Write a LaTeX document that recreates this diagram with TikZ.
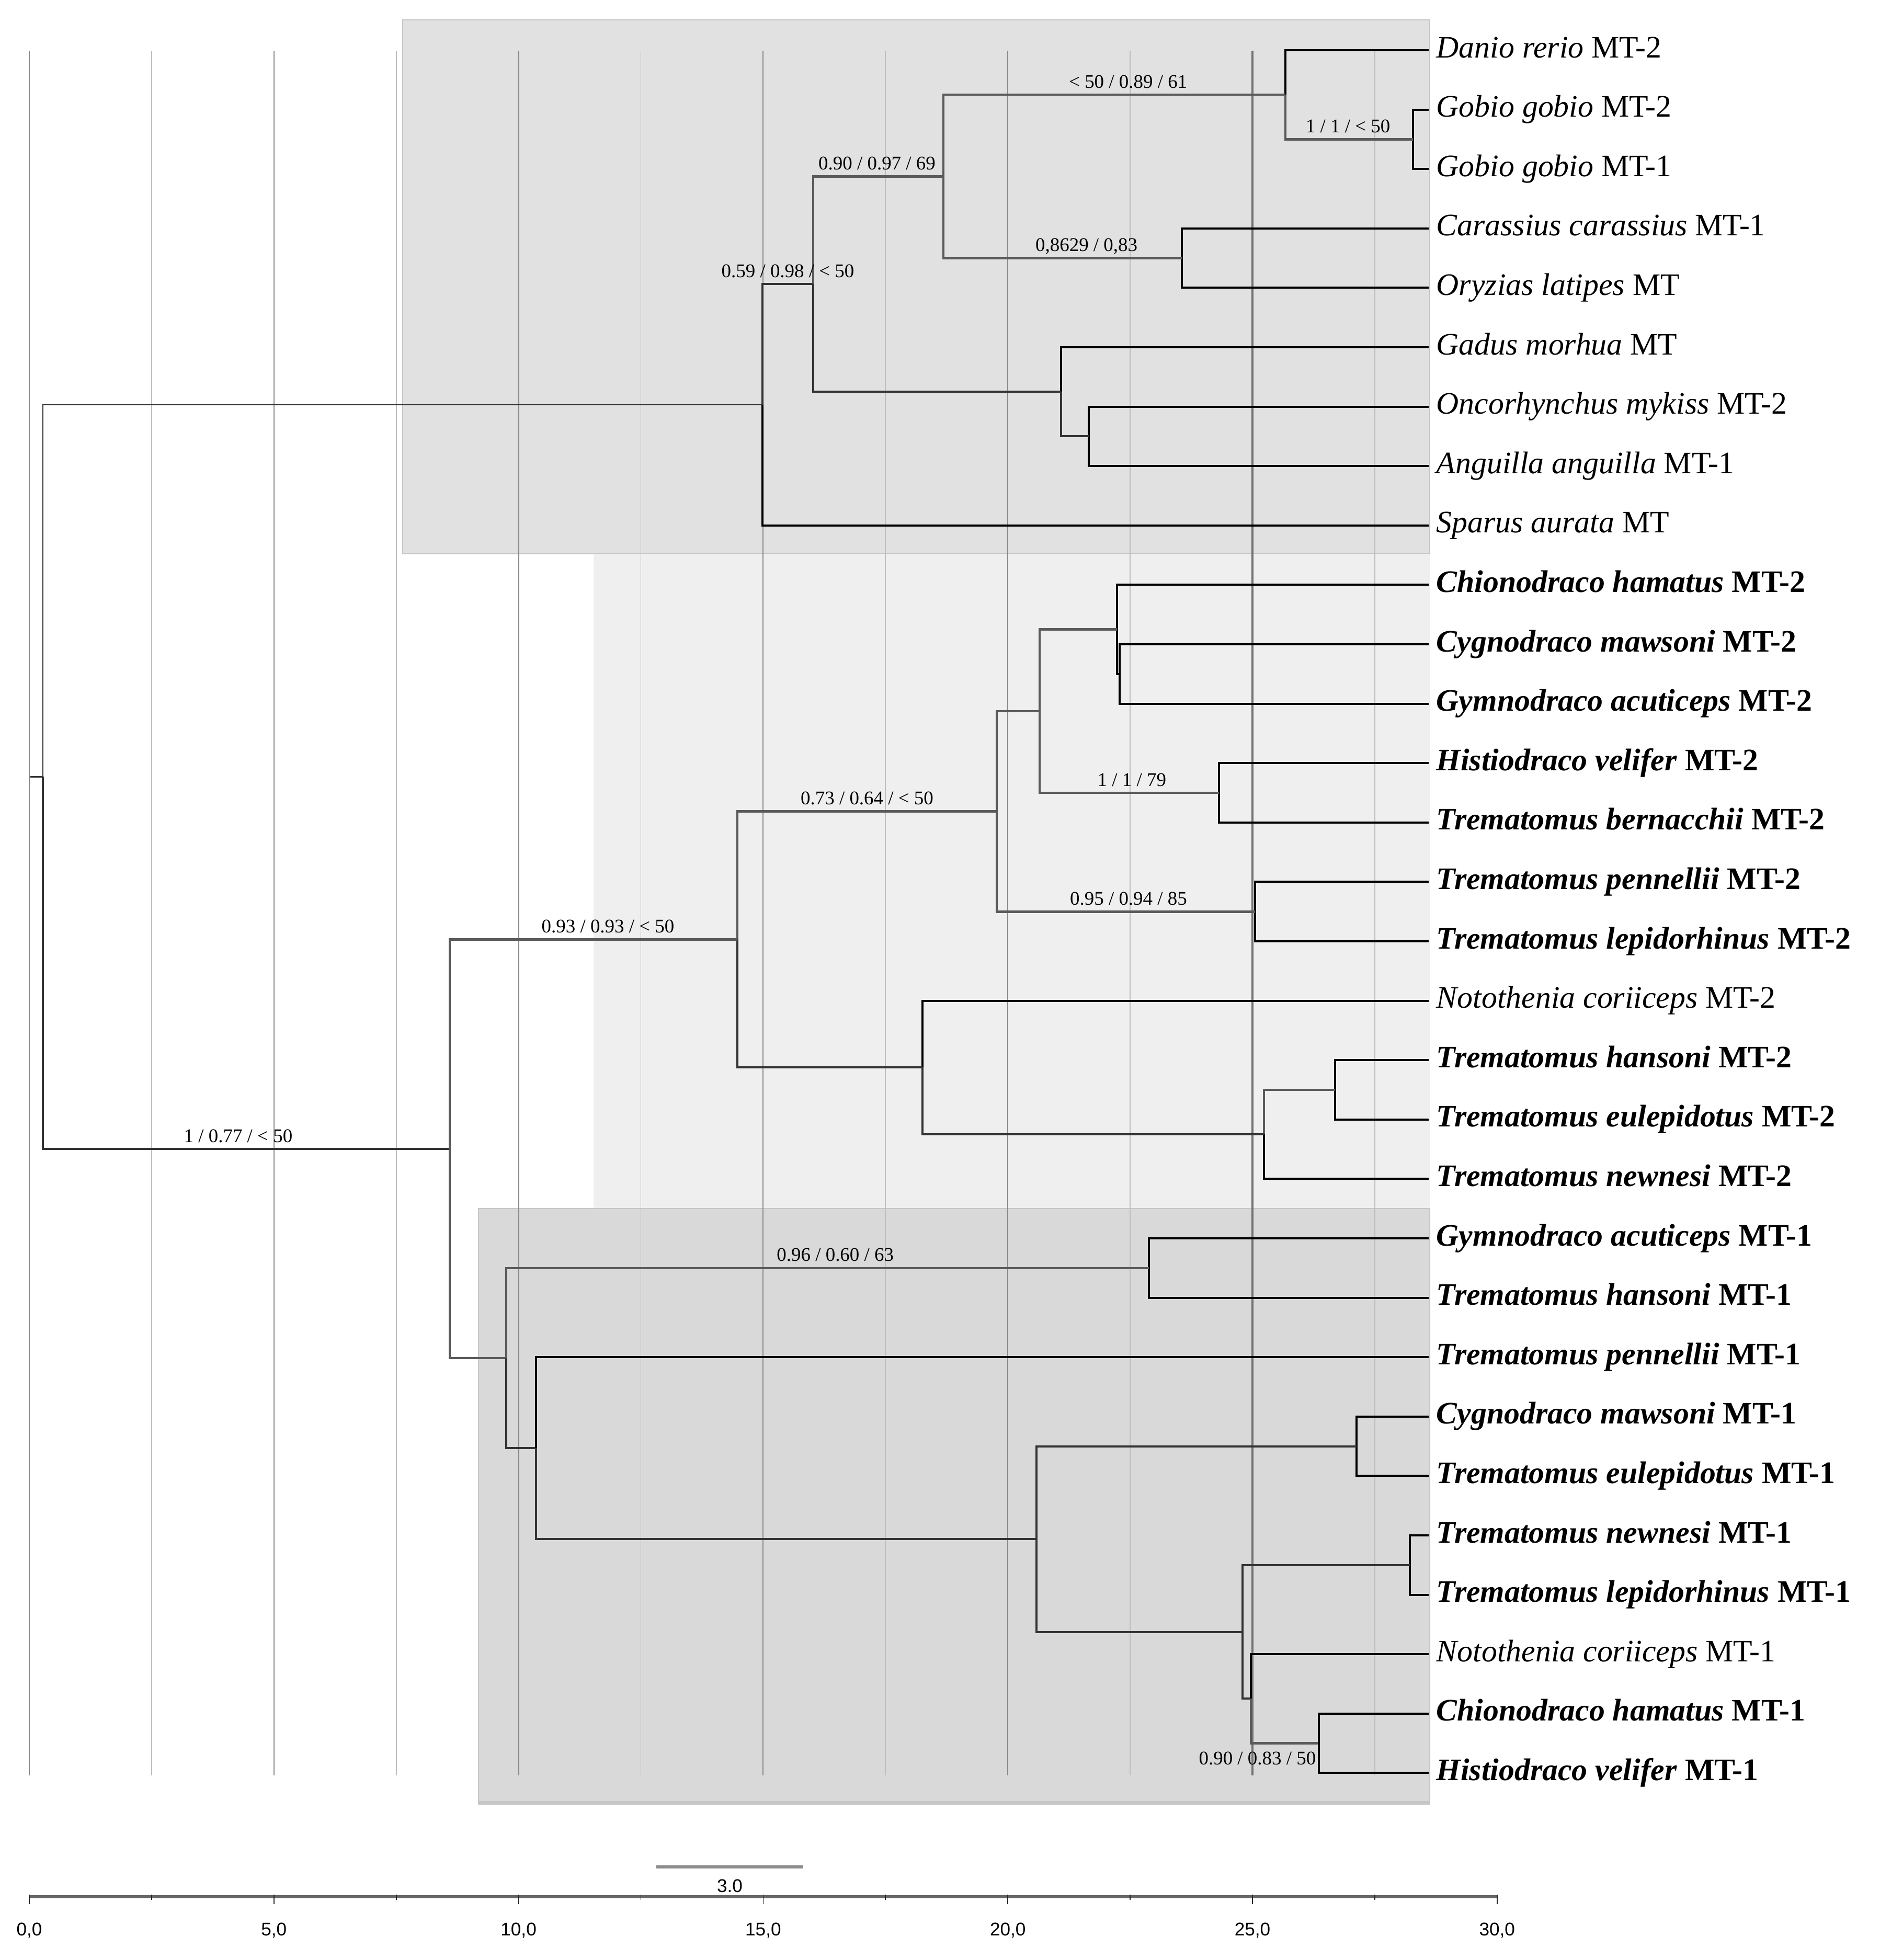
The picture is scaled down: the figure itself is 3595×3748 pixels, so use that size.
\documentclass[tikz,border=0pt]{standalone}
\usepackage{fontspec}
\setmainfont{Liberation Serif}
\setsansfont{Liberation Sans}
\usepackage{tikz}
\usetikzlibrary{calc,positioning}
\definecolor{boxtop}{HTML}{E1E1E1}
\definecolor{boxmtb}{HTML}{EFEFEF}
\definecolor{boxmta}{HTML}{D9D9D9}
\definecolor{boxedge}{HTML}{C6C6C6}
\definecolor{gridmaj}{HTML}{8A8A8A}
\definecolor{gridmin}{HTML}{BDBDBD}
\definecolor{branchc}{HTML}{5A5A5A}
\newcommand{\antarc}[2]{\textbf{\textit{#1} #2}}
\newcommand{\outgr}[2]{\textit{#1} #2}
\tikzset{
    taxon/.style={
    anchor=west,inner xsep=4pt,inner ysep=0pt,text height=0.8em,text depth=0pt,
    font=\fontsize{17}{20}\selectfont
    },
    lab/.style={
    above,inner sep=1pt,text height=0.7em,text depth=0.2em,text=black,
    font=\fontsize{10.5}{12}\selectfont
    },
    axlab/.style={
    inner sep=0pt,text=black,font=\sffamily\fontsize{10}{12}\selectfont
    },
    tip/.style={
    draw=black,line width=1.15pt
    },
    branch/.style={
    draw=branchc,line width=1.3pt
    },
    inner/.style={
    draw=black!80,line width=1.15pt
    },
    rootline/.style={
    draw=black!80,line width=0.8pt
    },
    gridline/.style={
    draw=gridmin,line width=0.5pt
    },
    clade/.style={
    draw=boxedge,line width=0.5pt
    },
}

\begin{document}
\begin{tikzpicture}[x=0.01cm, y=-0.01cm]
  \useasboundingbox (0,0) rectangle (3595,3748);
  % shaded clades
  \fill[boxtop,clade] (770,38) rectangle (2734,1059);
  \fill[boxmtb] (1135,1059) rectangle (2734,2311);
  \fill[boxmta,clade] (915,2311) rectangle (2734,3450);
  \draw[boxedge,line width=1.5pt] (915,3447) -- (2734,3447);
  % grid
  \foreach \k in {0,...,11}
    \draw[gridline] ({56+233.9*\k},97) -- ({56+233.9*\k},3395);
  \foreach \k in {0,2,...,10}
    \draw[gridmaj,line width=0.6pt] ({56+233.9*\k},97) -- ({56+233.9*\k},3395);
  \draw[black!55,line width=1pt] (2395,97) -- (2395,3395);

  % taxa
  \node[taxon] (t1) at (2732,96) {\outgr{Danio rerio}{MT-2}};
  \node[taxon] (t2) at (2732,209.6) {\outgr{Gobio gobio}{MT-2}};
  \node[taxon] (t3) at (2732,323.2) {\outgr{Gobio gobio}{MT-1}};
  \node[taxon] (t4) at (2732,436.8) {\outgr{Carassius carassius}{MT-1}};
  \node[taxon] (t5) at (2732,550.4) {\outgr{Oryzias latipes}{MT}};
  \node[taxon] (t6) at (2732,664) {\outgr{Gadus morhua}{MT}};
  \node[taxon] (t7) at (2732,777.6) {\outgr{Oncorhynchus mykiss}{MT-2}};
  \node[taxon] (t8) at (2732,891.2) {\outgr{Anguilla anguilla}{MT-1}};
  \node[taxon] (t9) at (2732,1004.8) {\outgr{Sparus aurata}{MT}};
  \node[taxon] (t10) at (2732,1118.4) {\antarc{Chionodraco hamatus}{MT-2}};
  \node[taxon] (t11) at (2732,1232) {\antarc{Cygnodraco mawsoni}{MT-2}};
  \node[taxon] (t12) at (2732,1345.6) {\antarc{Gymnodraco acuticeps}{MT-2}};
  \node[taxon] (t13) at (2732,1459.2) {\antarc{Histiodraco velifer}{MT-2}};
  \node[taxon] (t14) at (2732,1572.8) {\antarc{Trematomus bernacchii}{MT-2}};
  \node[taxon] (t15) at (2732,1686.4) {\antarc{Trematomus pennellii}{MT-2}};
  \node[taxon] (t16) at (2732,1800) {\antarc{Trematomus lepidorhinus}{MT-2}};
  \node[taxon] (t17) at (2732,1913.6) {\outgr{Notothenia coriiceps}{MT-2}};
  \node[taxon] (t18) at (2732,2027.2) {\antarc{Trematomus hansoni}{MT-2}};
  \node[taxon] (t19) at (2732,2140.8) {\antarc{Trematomus eulepidotus}{MT-2}};
  \node[taxon] (t20) at (2732,2254.4) {\antarc{Trematomus newnesi}{MT-2}};
  \node[taxon] (t21) at (2732,2368) {\antarc{Gymnodraco acuticeps}{MT-1}};
  \node[taxon] (t22) at (2732,2481.6) {\antarc{Trematomus hansoni}{MT-1}};
  \node[taxon] (t23) at (2732,2595.2) {\antarc{Trematomus pennellii}{MT-1}};
  \node[taxon] (t24) at (2732,2708.8) {\antarc{Cygnodraco mawsoni}{MT-1}};
  \node[taxon] (t25) at (2732,2822.4) {\antarc{Trematomus eulepidotus}{MT-1}};
  \node[taxon] (t26) at (2732,2936) {\antarc{Trematomus newnesi}{MT-1}};
  \node[taxon] (t27) at (2732,3049.6) {\antarc{Trematomus lepidorhinus}{MT-1}};
  \node[taxon] (t28) at (2732,3163.2) {\outgr{Notothenia coriiceps}{MT-1}};
  \node[taxon] (t29) at (2732,3276.8) {\antarc{Chionodraco hamatus}{MT-1}};
  \node[taxon] (t30) at (2732,3390.4) {\antarc{Histiodraco velifer}{MT-1}};

  % internal nodes
  \coordinate (gg) at (2702,266.4);
  \coordinate (dg) at (2458,181.2);
  \coordinate (co) at (2260,493.6);
  \coordinate (dc) at (1804,337.4);
  \coordinate (oa) at (2082,834.4);
  \coordinate (ga) at (2029,749.2);
  \coordinate (cy) at (1555,543.3);
  \coordinate (sp) at (1458,774.05);
  \coordinate (cg) at (2141,1288.8);
  \coordinate (ch) at (2136,1203.6);
  \coordinate (hb) at (2331,1516);
  \coordinate (chb) at (1988,1359.8);
  \coordinate (pl) at (2400,1743.2);
  \coordinate (cpl) at (1906,1551.5);
  \coordinate (he) at (2553,2084);
  \coordinate (hen) at (2417,2169.2);
  \coordinate (nh) at (1764,2041.4);
  \coordinate (m2) at (1410,1796.45);
  \coordinate (gh) at (2197,2424.8);
  \coordinate (ce) at (2594,2765.6);
  \coordinate (nl) at (2696,2992.8);
  \coordinate (chh) at (2522,3333.6);
  \coordinate (nc) at (2392,3248.4);
  \coordinate (nln) at (2376,3120.6);
  \coordinate (cen) at (1982,2943.1);
  \coordinate (pc) at (1025,2769.15);
  \coordinate (m1) at (968,2597);
  \coordinate (mt) at (860,2196.7);
  \coordinate (root) at (82,1485.4);
  \coordinate (stub) at (58,1485.4);

  % outgroup clade
  \draw[tip] (gg) |- (t2.west);
  \draw[tip] (gg) |- (t3.west);
  \draw[tip] (dg) |- (t1.west);
  \draw[branch] (dg) |- node[lab,pos=0.745] {1 / 1 / < 50} (gg);
  \draw[tip] (co) |- (t4.west);
  \draw[tip] (co) |- (t5.west);
  \draw[branch] (dc) |- node[lab,pos=0.77] {< 50 / 0.89 / 61} (dg);
  \draw[branch] (dc) |- node[lab,pos=0.8] {0,8629 / 0,83} (co);
  \draw[tip] (oa) |- (t7.west);
  \draw[tip] (oa) |- (t8.west);
  \draw[tip] (ga) |- (t6.west);
  \draw[inner] (ga) |- (oa);
  \draw[branch] (cy) |- node[lab,pos=0.745] {0.90 / 0.97 / 69} (dc);
  \draw[inner] (cy) |- (ga);
  \draw[inner] (sp) |- node[lab,pos=0.75] {0.59 / 0.98 / < 50} (cy);
  \draw[tip] (sp) |- (t9.west);
  \draw[rootline] (root) |- (sp);
  \draw[inner] (root) |- node[lab,pos=0.74] {1 / 0.77 / < 50} (mt);
  \draw[rootline] (root) -- (stub);

  % MT-2 clade
  \draw[tip] (cg) |- (t11.west);
  \draw[tip] (cg) |- (t12.west);
  \draw[tip] (ch) |- (t10.west);
  \draw[tip] (ch) |- (cg);
  \draw[tip] (hb) |- (t13.west);
  \draw[tip] (hb) |- (t14.west);
  \draw[branch] (chb) |- (ch);
  \draw[branch] (chb) |- node[lab,pos=0.757] {1 / 1 / 79} (hb);
  \draw[tip] (pl) |- (t15.west);
  \draw[tip] (pl) |- (t16.west);
  \draw[branch] (cpl) |- (chb);
  \draw[branch] (cpl) |- node[lab,pos=0.755] {0.95 / 0.94 / 85} (pl);
  \draw[tip] (he) |- (t18.west);
  \draw[tip] (he) |- (t19.west);
  \draw[branch] (hen) |- (he);
  \draw[tip] (hen) |- (t20.west);
  \draw[tip] (nh) |- (t17.west);
  \draw[inner] (nh) |- (hen);
  \draw[branch] (m2) |- node[lab,pos=0.75] {0.73 / 0.64 / < 50} (cpl);
  \draw[inner] (m2) |- (nh);
  \draw[branch] (mt) |- node[lab,pos=0.775] {0.93 / 0.93 / < 50} (m2);
  \draw[branch] (mt) |- (m1);

  % MT-1 clade
  \draw[tip] (gh) |- (t21.west);
  \draw[tip] (gh) |- (t22.west);
  \draw[branch] (m1) |- node[lab,pos=0.756] {0.96 / 0.60 / 63} (gh);
  \draw[inner] (m1) |- (pc);
  \draw[tip] (pc) |- (t23.west);
  \draw[inner] (pc) |- (cen);
  \draw[tip] (ce) |- (t24.west);
  \draw[tip] (ce) |- (t25.west);
  \draw[inner] (cen) |- (ce);
  \draw[inner] (cen) |- (nln);
  \draw[tip] (nl) |- (t26.west);
  \draw[tip] (nl) |- (t27.west);
  \draw[inner] (nln) |- (nl);
  \draw[inner] (nln) |- (nc);
  \draw[tip] (nc) |- (t28.west);
  \draw[branch] (nc) |- node[lab,pos=1,anchor=north east,yshift=-3pt] {0.90 / 0.83 / 50} (chh);
  \draw[tip] (chh) |- (t29.west);
  \draw[tip] (chh) |- (t30.west);

  % scale bar
  \coordinate (sba) at (1255,3570);
  \coordinate (sbb) at (1536,3570);
  \draw[black!45,line width=1.5pt] (sba) -- node[axlab,below=6pt] (sbl) {3.0} (sbb);

  % axis
  \draw[black!60,line width=1.6pt] (56,3627) -- (2863,3627);
  \foreach \k in {1,3,...,11}
    \draw[black!85,line width=0.5pt] ({56+233.9*\k},3623) -- ({56+233.9*\k},3633);
  \foreach \k/\v in {0/0,2/5,4/10,6/15,8/20,10/25,12/30}
    \draw[black!85,line width=0.5pt] ({56+233.9*\k},3623) -- ({56+233.9*\k},3641)
      node[axlab,below=10pt] {\v,0};
\end{tikzpicture}
\end{document}
